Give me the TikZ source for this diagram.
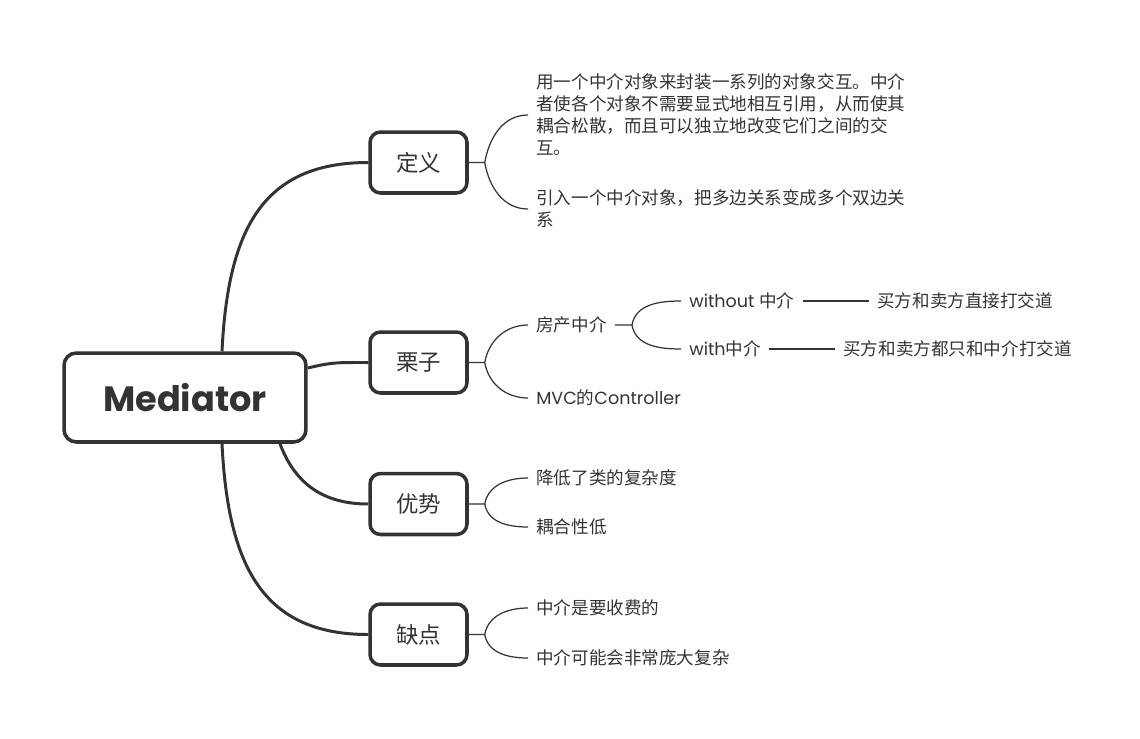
\documentclass[tikz,border=0pt]{standalone}
\usepackage{fontspec}
\setmainfont{Poppins}
\newfontfamily\cjk{Noto Sans CJK SC}
\usetikzlibrary{positioning, calc}
\definecolor{ink}{HTML}{333333}

\begin{document}
\begin{tikzpicture}[x=0.02cm, y=-0.02cm, color=ink,
    topic/.style={draw, line width=2pt, rounded corners=6pt, minimum width=1.94cm, minimum height=1.22cm, font=\cjk\fontsize{12.8}{15}\selectfont},
    trunk/.style={line width=1.7pt},
    twig/.style={line width=0.7pt},
    leaf/.style={anchor=west, inner ysep=0pt, inner xsep=0.16cm, align=left, font=\fontsize{10}{12.5}\selectfont},
    cnleaf/.style={leaf, font=\cjk\fontsize{10}{12.5}\selectfont}]
    \useasboundingbox (0,0) rectangle (1140,738);

    % root and the four topics
    \node[draw, line width=2pt, rounded corners=7pt, minimum width=4.84cm, minimum height=1.78cm, font=\bfseries\fontsize{20}{24}\selectfont] (root) at (185,397.5) {Mediator};
    \node[topic] (def) at (418.5,162.5) {定义};
    \node[topic] (eg) at (418.5,362.5) {栗子};
    \node[topic] (pro) at (418.5,504) {优势};
    \node[topic] (con) at (418.5,634.5) {缺点};

    \draw[trunk] ($(root.north)+(37,0)$) .. controls +(6,-123) and +(-105,0) .. (def.west);
    \draw[trunk] ($(root.east)+(0,-29.5)$) .. controls +(25,-6) and +(-30,0) .. (eg.west);
    \draw[trunk] ($(root.south)+(95,0)$) .. controls +(15,40) and +(-45,0) .. (pro.west);
    \draw[trunk] ($(root.south)+(37,0)$) .. controls +(6,123) and +(-105,0) .. (con.west);

    % leaves
    \node[cnleaf] (intent) at (528,115) {用一个中介对象来封装一系列的对象交互。中介\\者使各个对象不需要显式地相互引用，从而使其\\耦合松散，而且可以独立地改变它们之间的交\\互。};
    \node[cnleaf] (idea) at (528,209) {引入一个中介对象，把多边关系变成多个双边关\\系};
    \node[cnleaf] (house) at (528,325) {房产中介};
    \node[leaf] (without) at (681,301) {without {\cjk 中介}};
    \node[cnleaf] (direct) at (869,301) {买方和卖方直接打交道};
    \node[leaf] (with) at (681,349) {with{\cjk 中介}};
    \node[cnleaf] (viaagent) at (835,349) {买方和卖方都只和中介打交道};
    \node[leaf] (mvc) at (528,398) {MVC{\cjk 的}Controller};
    \node[cnleaf] (simpler) at (528,478) {降低了类的复杂度};
    \node[cnleaf] (loose) at (528,527) {耦合性低};
    \node[cnleaf] (fee) at (528,608) {中介是要收费的};
    \node[cnleaf] (bloat) at (528,658) {中介可能会非常庞大复杂};

    \coordinate (defj) at ($(def.east)+(16,0)$);
    \coordinate (egj) at ($(eg.east)+(16,0)$);
    \coordinate (proj) at ($(pro.east)+(16,0)$);
    \coordinate (conj) at ($(con.east)+(16,0)$);
    \coordinate (housej) at ($(house.east)+(17,0)$);

    \draw[twig] (def.east) -- (defj) to[out=80,in=180] (intent.west);
    \draw[twig] (defj) to[out=-80,in=180] (idea.west);
    \draw[twig] (eg.east) -- (egj) to[out=80,in=180] (house.west);
    \draw[twig] (egj) to[out=-80,in=180] (mvc.west);
    \draw[twig] (pro.east) -- (proj) to[out=80,in=180] (simpler.west);
    \draw[twig] (proj) to[out=-80,in=180] (loose.west);
    \draw[twig] (con.east) -- (conj) to[out=80,in=180] (fee.west);
    \draw[twig] (conj) to[out=-80,in=180] (bloat.west);

    \draw[twig] (house.east) -- (housej) to[out=80,in=180] (without.west);
    \draw[twig] (housej) to[out=-80,in=180] (with.west);
    \draw[twig] (without) -- (direct);
    \draw[twig] (with) -- (viaagent);
\end{tikzpicture}
\end{document}
